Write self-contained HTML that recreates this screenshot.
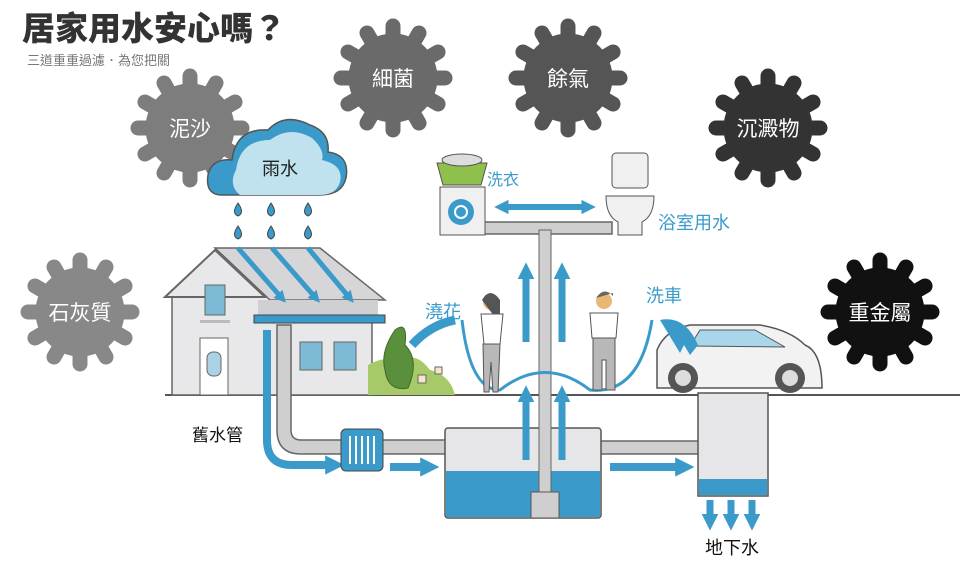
<!DOCTYPE html>
<html><head><meta charset="utf-8"><style>
body{margin:0;background:#fff}
svg{display:block}
text{font-family:"Liberation Sans","Noto Sans CJK TC",sans-serif}
</style></head><body>
<svg width="960" height="563" viewBox="0 0 960 563" xmlns="http://www.w3.org/2000/svg">
<defs>
<g id="ray"><line x1="0" y1="0" x2="0" y2="-52" stroke-width="15" stroke-linecap="round"/></g>
<g id="splat">
<circle r="44"/>
<g>
<use href="#ray" transform="rotate(0)"/><use href="#ray" transform="rotate(30)"/><use href="#ray" transform="rotate(60)"/><use href="#ray" transform="rotate(90)"/><use href="#ray" transform="rotate(120)"/><use href="#ray" transform="rotate(150)"/><use href="#ray" transform="rotate(180)"/><use href="#ray" transform="rotate(210)"/><use href="#ray" transform="rotate(240)"/><use href="#ray" transform="rotate(270)"/><use href="#ray" transform="rotate(300)"/><use href="#ray" transform="rotate(330)"/>
</g>
</g>
<marker id="ah" viewBox="0 0 4 4" markerWidth="2.4" markerHeight="2.4" refX="1" refY="2" orient="auto-start-reverse" markerUnits="strokeWidth"><path d="M0,0 L4,2 L0,4 z" fill="#3a9bcb"/></marker>
</defs>

<text x="22" y="40" font-family="'Noto Serif CJK SC',serif" font-size="33" font-weight="900" fill="#333">居家用水安心嗎？</text>
<text x="27" y="65" font-size="13" fill="#777">三道重重過濾．為您把關</text>

<g fill="#7d7d7d" stroke="#7d7d7d"><use href="#splat" transform="translate(190,128)"/></g>
<g fill="#6a6a6a" stroke="#6a6a6a"><use href="#splat" transform="translate(393,78)"/></g>
<g fill="#555" stroke="#555"><use href="#splat" transform="translate(568,78)"/></g>
<g fill="#333" stroke="#333"><use href="#splat" transform="translate(768,128)"/></g>
<g fill="#888" stroke="#888"><use href="#splat" transform="translate(80,312)"/></g>
<g fill="#111" stroke="#111"><use href="#splat" transform="translate(880,312)"/></g>
<g fill="#fff" font-size="21" text-anchor="middle">
<text x="190" y="136">泥沙</text><text x="393" y="86">細菌</text><text x="568" y="86">餘氣</text>
<text x="768" y="136">沉澱物</text><text x="80" y="320">石灰質</text><text x="880" y="320">重金屬</text>
</g>

<!-- cloud -->
<path d="M222,195 Q205,195 208,175 Q212,158 232,160 Q236,128 268,130 Q285,112 310,125 Q330,132 328,152 Q350,155 346,178 Q342,195 320,195 Z" fill="#3a9bcb" stroke="#555" stroke-width="1.5"/>
<path d="M240,195 Q228,185 236,170 Q240,140 270,140 Q290,125 312,138 Q325,150 322,160 Q344,165 340,182 Q336,195 320,195 Z" fill="#bfe2ee"/>
<text x="280" y="175" font-size="18" text-anchor="middle" fill="#222">雨水</text>
<g fill="#3a9bcb" stroke="#444" stroke-width="1">
<path d="M238,203 q-7,10 0,13 q7,-3 0,-13z"/><path d="M271,203 q-7,10 0,13 q7,-3 0,-13z"/><path d="M308,203 q-7,10 0,13 q7,-3 0,-13z"/>
<path d="M238,226 q-7,10 0,13 q7,-3 0,-13z"/><path d="M271,226 q-7,10 0,13 q7,-3 0,-13z"/><path d="M308,226 q-7,10 0,13 q7,-3 0,-13z"/>
</g>

<line x1="165" y1="395" x2="960" y2="395" stroke="#555" stroke-width="2"/>

<!-- house -->
<rect x="172" y="290" width="200" height="105" fill="#e8e8ea" stroke="#666" stroke-width="1.5"/>
<polygon points="165,297 215,250 265,297" fill="#e8e8ea" stroke="#666" stroke-width="2"/>
<polygon points="215,248 320,248 385,300 270,300" fill="#d6d6d8" stroke="#666" stroke-width="1.5"/>
<rect x="258" y="300" width="120" height="15" fill="#d0d0d2"/>
<g stroke="#3a9bcb" stroke-width="5" fill="none" marker-end="url(#ah)">
<line x1="238" y1="248" x2="280" y2="296"/><line x1="272" y1="248" x2="314" y2="296"/><line x1="308" y1="248" x2="348" y2="296"/>
</g>
<rect x="254" y="315" width="131" height="8" fill="#3a9bcb" stroke="#444"/>
<rect x="205" y="285" width="20" height="30" fill="#7cbad6" stroke="#666"/>
<rect x="200" y="320" width="30" height="3" fill="#bbb"/>
<rect x="200" y="338" width="28" height="57" fill="#fff" stroke="#666"/>
<rect x="207" y="352" width="14" height="24" rx="6" fill="#a9d3e5" stroke="#666"/>
<rect x="300" y="342" width="22" height="28" fill="#7cbad6" stroke="#666"/>
<rect x="334" y="342" width="22" height="28" fill="#7cbad6" stroke="#666"/>
<path d="M368,395 L368,365 Q385,355 400,362 Q415,350 430,370 Q450,375 455,395 Z" fill="#a8c96a"/>
<path d="M395,330 Q408,320 405,345 Q420,360 408,388 Q388,392 385,370 Q380,352 395,330z" fill="#5a8f3c" stroke="#3d6a2b"/>
<rect x="418" y="375" width="8" height="8" fill="#f5e6c8" stroke="#666"/>
<rect x="435" y="367" width="7" height="7" fill="#f5e6c8" stroke="#666"/>
<path d="M412,345 Q430,325 455,320" stroke="#3a9bcb" stroke-width="9" fill="none"/>

<!-- pipes -->
<g stroke="#666" stroke-width="1.5" fill="#cfcfcf">
<path d="M277,325 h14 v105 q0,10 10,10 h145 v14 h-145 q-24,0 -24,-24 z"/>
<rect x="600" y="441" width="100" height="13"/>
<rect x="482" y="222" width="130" height="12"/>
</g>
<path d="M267,330 v110 q0,25 25,25 h38" stroke="#3a9bcb" stroke-width="8" fill="none" marker-end="url(#ah)"/>
<rect x="341" y="429" width="42" height="42" rx="5" fill="#3a9bcb" stroke="#444"/>
<g stroke="#fff" stroke-width="2"><line x1="350" y1="436" x2="350" y2="464"/><line x1="356" y1="436" x2="356" y2="464"/><line x1="362" y1="436" x2="362" y2="464"/><line x1="368" y1="436" x2="368" y2="464"/><line x1="374" y1="436" x2="374" y2="464"/></g>
<line x1="390" y1="467" x2="425" y2="467" stroke="#3a9bcb" stroke-width="8" marker-end="url(#ah)"/>
<line x1="610" y1="467" x2="680" y2="467" stroke="#3a9bcb" stroke-width="8" marker-end="url(#ah)"/>

<!-- tank -->
<rect x="445" y="428" width="156" height="90" rx="3" fill="#e6e6e8" stroke="#555" stroke-width="1.5"/>
<path d="M446,471 H600 V517 H446 Z" fill="#3a9bcb"/>
<rect x="539" y="230" width="12" height="265" fill="#cfcfcf" stroke="#666"/>
<rect x="531" y="492" width="28" height="26" fill="#cfcfcf" stroke="#555"/>
<g stroke="#3a9bcb" stroke-width="7" marker-end="url(#ah)">
<line x1="526" y1="460" x2="526" y2="398"/><line x1="562" y1="460" x2="562" y2="398"/>
<line x1="526" y1="342" x2="526" y2="275"/><line x1="562" y1="342" x2="562" y2="275"/>
</g>
<line x1="505" y1="207" x2="585" y2="207" stroke="#3a9bcb" stroke-width="6" marker-end="url(#ah)" marker-start="url(#ah)"/>

<!-- washer / toilet -->
<rect x="440" y="187" width="45" height="48" fill="#f0f0f0" stroke="#555"/>
<circle cx="461" cy="212" r="13" fill="#3a9bcb"/><circle cx="461" cy="212" r="6" fill="none" stroke="#fff" stroke-width="2"/>
<path d="M437,163 h50 l-6,22 h-38z" fill="#8fbf4d" stroke="#555"/>
<ellipse cx="462" cy="160" rx="20" ry="6" fill="#ddd" stroke="#555"/>
<text x="487" y="185" font-size="16" fill="#3a9bcb">洗衣</text>
<rect x="612" y="153" width="36" height="35" rx="4" fill="#f0f0f0" stroke="#555"/>
<path d="M606,196 h48 q0,20 -12,26 v13 h-24 v-13 q-12,-6 -12,-26z" fill="#f0f0f0" stroke="#555"/>
<text x="658" y="229" font-size="18" fill="#3a9bcb">浴室用水</text>

<!-- people -->
<text x="425" y="318" font-size="18" fill="#3a9bcb">澆花</text>
<text x="646" y="302" font-size="18" fill="#3a9bcb">洗車</text>
<path d="M462,320 Q470,390 500,390 Q545,355 590,390 Q640,395 652,320" stroke="#3a9bcb" stroke-width="3" fill="none"/>
<circle cx="491" cy="302" r="8" fill="#e8b775"/><path d="M482,300 q8,-14 18,0 v16 h-6z" fill="#555"/>
<path d="M481,314 h22 l-3,30 h-16z" fill="#fff" stroke="#555"/>
<path d="M483,344 h17 l-2,48 h-5 l-2,-30 l-2,30 h-5z" fill="#b8b8b8" stroke="#555"/>
<circle cx="604" cy="301" r="8" fill="#e8b775"/><path d="M596,298 q8,-12 17,-2 v-3z" fill="#666"/>
<path d="M590,313 h28 l-2,25 h-24z" fill="#fff" stroke="#555"/>
<path d="M593,338 h22 v52 h-9 v-30 h-4 v30 h-9z" fill="#b8b8b8" stroke="#555"/>

<!-- car -->
<path d="M657,388 V350 Q665,330 690,325 H760 Q790,330 805,345 Q822,352 822,388 Z" fill="#f2f2f2" stroke="#555" stroke-width="1.5"/>
<path d="M690,346 L700,330 H755 L785,347 Z" fill="#a9d6ea" stroke="#555"/>
<circle cx="683" cy="378" r="15" fill="#555"/><circle cx="683" cy="378" r="8" fill="#ddd"/>
<circle cx="790" cy="378" r="15" fill="#555"/><circle cx="790" cy="378" r="8" fill="#ddd"/>
<path d="M660,320 Q685,315 698,345 l-8,10 -6,-10 -4,8z" fill="#3a9bcb"/>

<!-- filter box -->
<rect x="698" y="393" width="70" height="103" fill="#e6e6e8" stroke="#555" stroke-width="1.5"/>
<rect x="699" y="479" width="68" height="16" fill="#3a9bcb"/>
<g stroke="#3a9bcb" stroke-width="7" marker-end="url(#ah)">
<line x1="710" y1="500" x2="710" y2="518"/><line x1="731" y1="500" x2="731" y2="518"/><line x1="752" y1="500" x2="752" y2="518"/>
</g>
<text x="732" y="554" font-size="18" text-anchor="middle" fill="#111">地下水</text>
<text x="192" y="441" font-size="17" fill="#111">舊水管</text>
</svg>
</body></html>
